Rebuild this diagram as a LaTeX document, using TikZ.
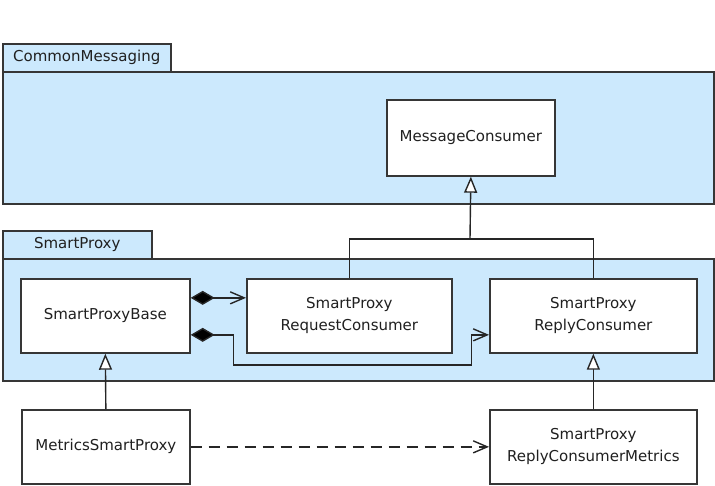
\documentclass[tikz,border=0pt]{standalone}
\usepackage{fontspec}
\setmainfont{DejaVu Sans}
\usepackage{tikz}
\usetikzlibrary{
  arrows.meta,
  calc
}
\definecolor{umlPkg}{HTML}{CCE9FD}
\definecolor{umlEdge}{HTML}{363636}
\definecolor{umlText}{HTML}{202020}
\tikzset{
  umlfont/.style={font=\fontsize{15}{22}\selectfont, text=umlText},
  umlclass/.style={
    draw=umlEdge, fill=white, line width=1.7pt, inner sep=0pt, anchor=north west,
    minimum width=168pt, minimum height=75pt, align=center, umlfont
  },
  pkgtab/.style={
    draw=umlEdge, fill=umlPkg, line width=1.5pt, inner sep=0pt, anchor=north west,
    minimum height=28pt, umlfont
  },
  pkgbody/.style={
    draw=umlEdge, fill=umlPkg, line width=1.5pt, inner sep=0pt, anchor=north west,
    minimum width=711pt
  },
  link/.style={line width=1.4pt, draw=black!85},
  inherit/.style={link, -{Triangle[length=16pt, width=13pt, fill=white]}},
  compose/.style={link, {Diamond[length=24pt, width=14pt, fill=black]}-{Straight Barb[length=14pt, width=12pt]}},
  depend/.style={link, dash pattern=on 11pt off 7pt, -{Straight Barb[length=14pt, width=12pt]}}
}

\begin{document}
\begin{tikzpicture}[x=1pt, y=-1pt]
  \useasboundingbox (0,0) rectangle (715,485);
  % package frames
  \node[pkgbody, minimum height=132pt] (cmBody) at (2,71) {};
  \node[pkgtab, minimum width=168pt] (cmTab) at (2,43) {CommonMessaging};
  \node[pkgbody, minimum height=122pt] (spBody) at (2,258) {};
  \node[pkgtab, minimum width=149pt] (spTab) at (2,230) {SmartProxy};

  \node[umlclass, minimum width=168pt, minimum height=76pt] (msgCons) at (386,99) {MessageConsumer};
  \node[umlclass, minimum width=169pt, minimum height=74pt] (base) at (20,278) {SmartProxyBase};
  \node[umlclass, minimum width=205pt, minimum height=74pt] (reqCons) at (246,278) {SmartProxy\\RequestConsumer};
  \node[umlclass, minimum width=207pt, minimum height=74pt] (replyCons) at (489,278) {SmartProxy\\ReplyConsumer};
  \node[umlclass, minimum width=168pt, minimum height=74pt] (metrics) at (21,409) {MetricsSmartProxy};
  \node[umlclass, minimum width=207pt, minimum height=74pt] (replyMetrics) at (489,409) {SmartProxy\\ReplyConsumerMetrics};

  \coordinate (join) at (470,239);
  \draw[link] (reqCons.north) |- (join) -| (replyCons.north);
  \draw[inherit] (join) -- (msgCons.south);
  \foreach \s/\e in {metrics/base, replyMetrics/replyCons}{\draw[inherit] (\s.north) -- (\e.south);}

  \draw[compose] ([yshift=18pt]base.east) -- ([yshift=18pt]reqCons.west);
  \draw[compose] ([yshift=-19pt]base.east) -- ++(43,0) -- ++(0,30) -- ++(238,0) -- ++(0,-30)
    -- ([yshift=-19pt]replyCons.west);
  \draw[depend] (metrics.east) -- (replyMetrics.west);
\end{tikzpicture}
\end{document}
